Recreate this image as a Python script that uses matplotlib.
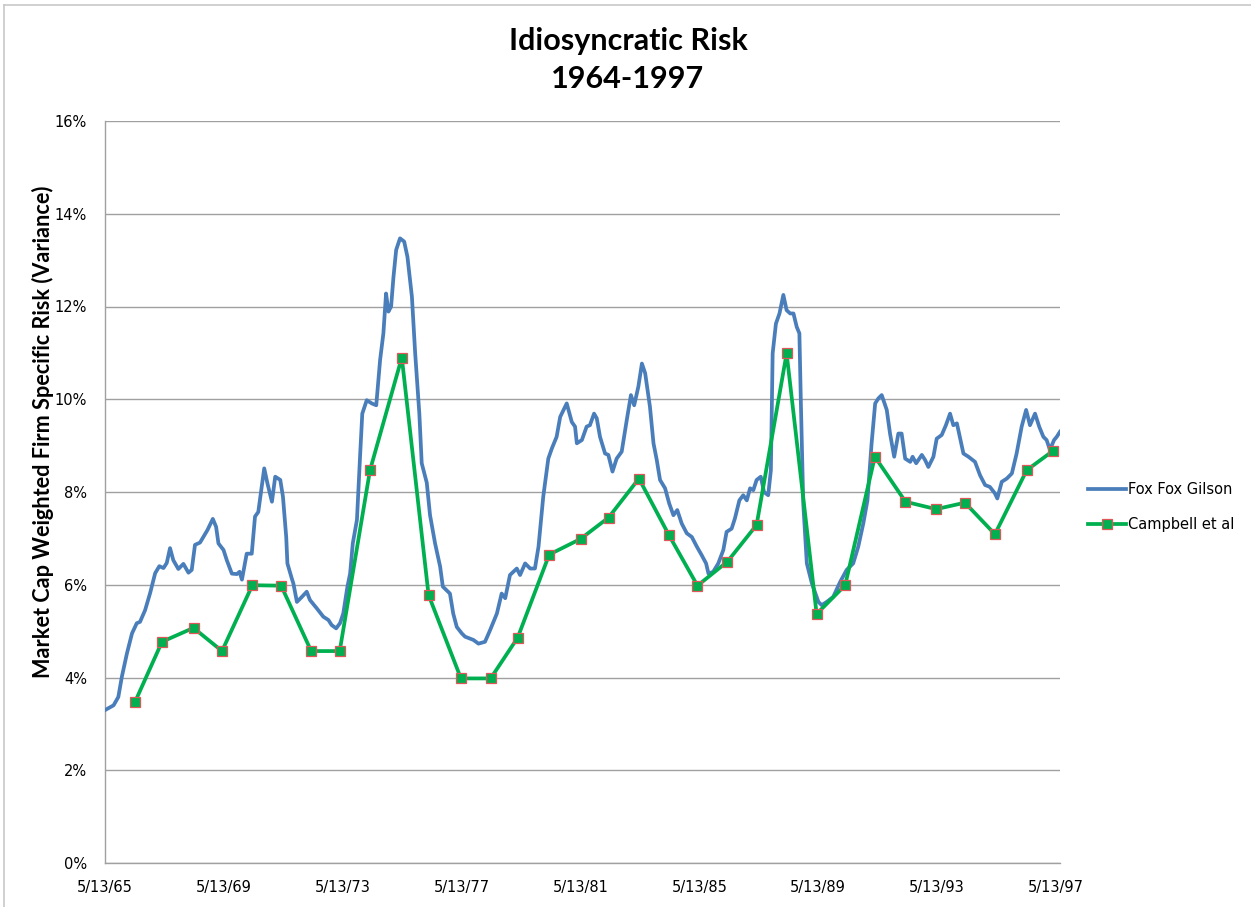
import matplotlib
matplotlib.use("Agg")
import matplotlib.pyplot as plt
from matplotlib.lines import Line2D
from matplotlib.ticker import FuncFormatter, FixedLocator

# Fox Fox Gilson: market-cap weighted idiosyncratic variance (decimal year, %)
fox_years = [
    1965.37, 1965.65, 1965.81, 1965.93, 1966.10, 1966.27, 1966.43, 1966.54, 1966.71, 1966.88,
    1967.05, 1967.19, 1967.33, 1967.44, 1967.55, 1967.66, 1967.83, 1968.00, 1968.17, 1968.28,
    1968.39, 1968.56, 1968.67, 1968.81, 1968.99, 1969.10, 1969.18, 1969.35, 1969.46, 1969.63,
    1969.80, 1969.89, 1969.97, 1970.13, 1970.30, 1970.41, 1970.52, 1970.72, 1970.83, 1970.98,
    1971.09, 1971.26, 1971.35, 1971.46, 1971.50, 1971.65, 1971.70, 1971.82, 1971.99, 1972.15,
    1972.26, 1972.49, 1972.71, 1972.88, 1972.99, 1973.14, 1973.27, 1973.38, 1973.52, 1973.61,
    1973.70, 1973.84, 1973.95, 1974.02, 1974.17, 1974.34, 1974.49, 1974.62, 1974.73, 1974.82,
    1974.90, 1974.99, 1975.07, 1975.16, 1975.29, 1975.43, 1975.54, 1975.69, 1975.80, 1975.94,
    1976.02, 1976.19, 1976.30, 1976.47, 1976.64, 1976.73, 1976.97, 1977.08, 1977.20, 1977.37,
    1977.48, 1977.76, 1977.93, 1978.15, 1978.32, 1978.55, 1978.71, 1978.83, 1978.99, 1979.22,
    1979.33, 1979.50, 1979.67, 1979.83, 1979.95, 1980.11, 1980.28, 1980.40, 1980.56, 1980.68,
    1980.90, 1981.07, 1981.18, 1981.24, 1981.41, 1981.57, 1981.68, 1981.82, 1981.91, 1982.02,
    1982.19, 1982.30, 1982.44, 1982.58, 1982.75, 1982.92, 1983.06, 1983.17, 1983.31, 1983.43,
    1983.54, 1983.70, 1983.82, 1983.93, 1984.04, 1984.21, 1984.35, 1984.49, 1984.62, 1984.77,
    1984.94, 1985.11, 1985.28, 1985.44, 1985.59, 1985.67, 1985.83, 1986.00, 1986.17, 1986.28,
    1986.45, 1986.56, 1986.71, 1986.84, 1986.96, 1987.07, 1987.18, 1987.29, 1987.43, 1987.54,
    1987.68, 1987.77, 1987.83, 1987.94, 1988.06, 1988.19, 1988.30, 1988.42, 1988.53, 1988.64,
    1988.73, 1988.78, 1988.86, 1988.98, 1989.15, 1989.37, 1989.48, 1989.65, 1989.87, 1990.10,
    1990.32, 1990.54, 1990.71, 1990.88, 1991.02, 1991.16, 1991.28, 1991.39, 1991.50, 1991.67,
    1991.78, 1991.92, 1992.06, 1992.17, 1992.29, 1992.46, 1992.54, 1992.66, 1992.85, 1992.96,
    1993.07, 1993.24, 1993.35, 1993.52, 1993.66, 1993.80, 1993.91, 1994.03, 1994.14, 1994.25,
    1994.42, 1994.64, 1994.81, 1994.98, 1995.14, 1995.31, 1995.39, 1995.54, 1995.71, 1995.88,
    1996.04, 1996.21, 1996.36, 1996.49, 1996.66, 1996.80, 1996.94, 1997.05, 1997.16, 1997.30,
    1997.39, 1997.50,
]
fox_values = [
    3.30, 3.40, 3.58, 4.02, 4.52, 4.95, 5.17, 5.20, 5.45, 5.82,
    6.25, 6.40, 6.36, 6.47, 6.79, 6.53, 6.34, 6.45, 6.26, 6.32,
    6.86, 6.91, 7.03, 7.18, 7.42, 7.25, 6.89, 6.75, 6.53, 6.24,
    6.23, 6.28, 6.11, 6.67, 6.67, 7.47, 7.57, 8.51, 8.18, 7.79,
    8.33, 8.26, 7.90, 7.03, 6.46, 6.13, 6.03, 5.63, 5.74, 5.85,
    5.67, 5.49, 5.31, 5.24, 5.13, 5.06, 5.17, 5.38, 5.96, 6.24,
    6.89, 7.40, 8.83, 9.69, 9.98, 9.91, 9.87, 10.85, 11.42, 12.28,
    11.89, 12.00, 12.64, 13.22, 13.47, 13.40, 13.07, 12.21, 10.99, 9.69,
    8.62, 8.20, 7.50, 6.89, 6.39, 5.96, 5.81, 5.38, 5.09, 4.95,
    4.88, 4.81, 4.73, 4.77, 5.02, 5.38, 5.81, 5.71, 6.21, 6.35,
    6.21, 6.46, 6.35, 6.35, 6.82, 7.90, 8.72, 8.94, 9.19, 9.62,
    9.91, 9.51, 9.41, 9.05, 9.12, 9.41, 9.44, 9.69, 9.59, 9.19,
    8.83, 8.80, 8.44, 8.72, 8.87, 9.55, 10.09, 9.87, 10.27, 10.77,
    10.56, 9.84, 9.05, 8.69, 8.26, 8.08, 7.75, 7.50, 7.61, 7.32,
    7.11, 7.03, 6.82, 6.64, 6.46, 6.24, 6.28, 6.46, 6.75, 7.14,
    7.21, 7.43, 7.82, 7.93, 7.82, 8.08, 8.04, 8.26, 8.33, 8.00,
    7.93, 8.47, 10.99, 11.63, 11.85, 12.25, 11.92, 11.85, 11.85, 11.56,
    11.42, 9.91, 7.75, 6.46, 6.03, 5.63, 5.56, 5.63, 5.74, 6.06,
    6.32, 6.46, 6.82, 7.32, 7.82, 9.05, 9.91, 10.02, 10.09, 9.77,
    9.26, 8.76, 9.26, 9.26, 8.72, 8.65, 8.76, 8.62, 8.80, 8.69,
    8.54, 8.76, 9.15, 9.23, 9.44, 9.69, 9.44, 9.48, 9.15, 8.83,
    8.76, 8.65, 8.36, 8.15, 8.11, 7.97, 7.86, 8.22, 8.29, 8.40,
    8.83, 9.41, 9.77, 9.44, 9.69, 9.41, 9.19, 9.12, 8.91, 9.12,
    9.19, 9.30,
]

# Campbell et al: annual estimates (decimal year, %)
campbell_years = [
    1966.37, 1967.28, 1968.34, 1969.30, 1970.32, 1971.29, 1972.30, 1973.26,
    1974.28, 1975.35, 1976.25, 1977.34, 1978.34, 1979.25, 1980.31, 1981.37,
    1982.31, 1983.33, 1984.34, 1985.30, 1986.31, 1987.29, 1988.30, 1989.31,
    1990.27, 1991.27, 1992.30, 1993.33, 1994.30, 1995.31, 1996.38, 1997.27,
]
campbell_values = [
    3.47, 4.77, 5.07, 4.57, 5.99, 5.98, 4.57, 4.57,
    8.47, 10.90, 5.78, 3.98, 3.98, 4.86, 6.65, 6.99,
    7.45, 8.29, 7.07, 5.98, 6.50, 7.29, 10.99, 5.37,
    5.99, 8.76, 7.79, 7.63, 7.77, 7.09, 8.47, 8.89,
]

x_tick_labels = ["5/13/65", "5/13/69", "5/13/73", "5/13/77",
                 "5/13/81", "5/13/85", "5/13/89", "5/13/93", "5/13/97"]
y_ticks = [0, 2, 4, 6, 8, 10, 12, 14, 16]


def label_to_year(text):
    m, d, yy = (int(p) for p in text.split("/"))
    days_before = [0, 31, 59, 90, 120, 151, 181, 212, 243, 273, 304, 334]
    return 1900 + yy + (days_before[m - 1] + d - 1) / 365.0


W, H = 1251, 907
fig = plt.figure(figsize=(W / 100, H / 100), dpi=100)
fig.patch.set_facecolor("white")

ax = fig.add_axes([105 / W, 1 - 863 / H, (1060 - 105) / W, (863 - 121) / H])

grid_color = "#a0a0a0"
blue = "#4a7ebb"
green = "#00b050"

ax.plot(fox_years, fox_values, color=blue, lw=2.7, solid_joinstyle="round",
        label="Fox Fox Gilson", zorder=3)
ax.plot(campbell_years, campbell_values, color=green, lw=2.7, marker="s",
        markersize=7.5, markerfacecolor=green, markeredgecolor="#e0575a",
        markeredgewidth=0.9, label="Campbell et al", zorder=4)

ax.set_xlim(label_to_year("5/13/65"), 1997.50)
ax.set_ylim(0, 16)
ax.xaxis.set_major_locator(FixedLocator([label_to_year(t) for t in x_tick_labels]))
ax.set_xticklabels(x_tick_labels)
ax.set_yticks(y_ticks)
ax.yaxis.set_major_formatter(FuncFormatter(lambda v, p: f"{v:.0f}%"))

ax.grid(axis="y", color=grid_color, lw=1.0)
ax.set_axisbelow(True)
for side in ("top", "right"):
    ax.spines[side].set_visible(False)
for side in ("left", "bottom"):
    ax.spines[side].set_color(grid_color)
    ax.spines[side].set_linewidth(1.0)

ax.tick_params(axis="both", length=0, labelsize=10.5, colors="black")
ax.tick_params(axis="y", pad=13)
ax.tick_params(axis="x", pad=12)
for lab in ax.get_xticklabels() + ax.get_yticklabels():
    lab.set_fontfamily("DejaVu Sans")

fig.text(628 / W, 1 - 60 / H, "Idiosyncratic Risk\n1964-1997", ha="center",
         va="center", fontsize=22, fontweight="bold", family="Lato",
         linespacing=1.42)

fig.text(43 / W, 1 - 432 / H, "Market Cap Weighted Firm Specific Risk (Variance)",
         rotation=90, ha="center", va="center", fontsize=15.6,
         fontweight="bold", family="Lato")

leg = ax.legend(loc="upper left", bbox_to_anchor=(1088 / W, 1 - 482 / H),
                bbox_transform=fig.transFigure, frameon=False,
                prop={"family": "DejaVu Sans", "size": 10.5},
                handlelength=2.6, handletextpad=0.15, labelspacing=1.35,
                borderaxespad=0, borderpad=0)

# light frame along the top and left edges of the figure
fig.add_artist(Line2D([4 / W, 1], [1 - 5 / H, 1 - 5 / H], transform=fig.transFigure,
                      color="#c8c8c8", lw=1.2))
fig.add_artist(Line2D([4 / W, 4 / W], [0, 1 - 5 / H], transform=fig.transFigure,
                      color="#c8c8c8", lw=1.2))

fig.savefig("out.png", dpi=100, facecolor="white")
